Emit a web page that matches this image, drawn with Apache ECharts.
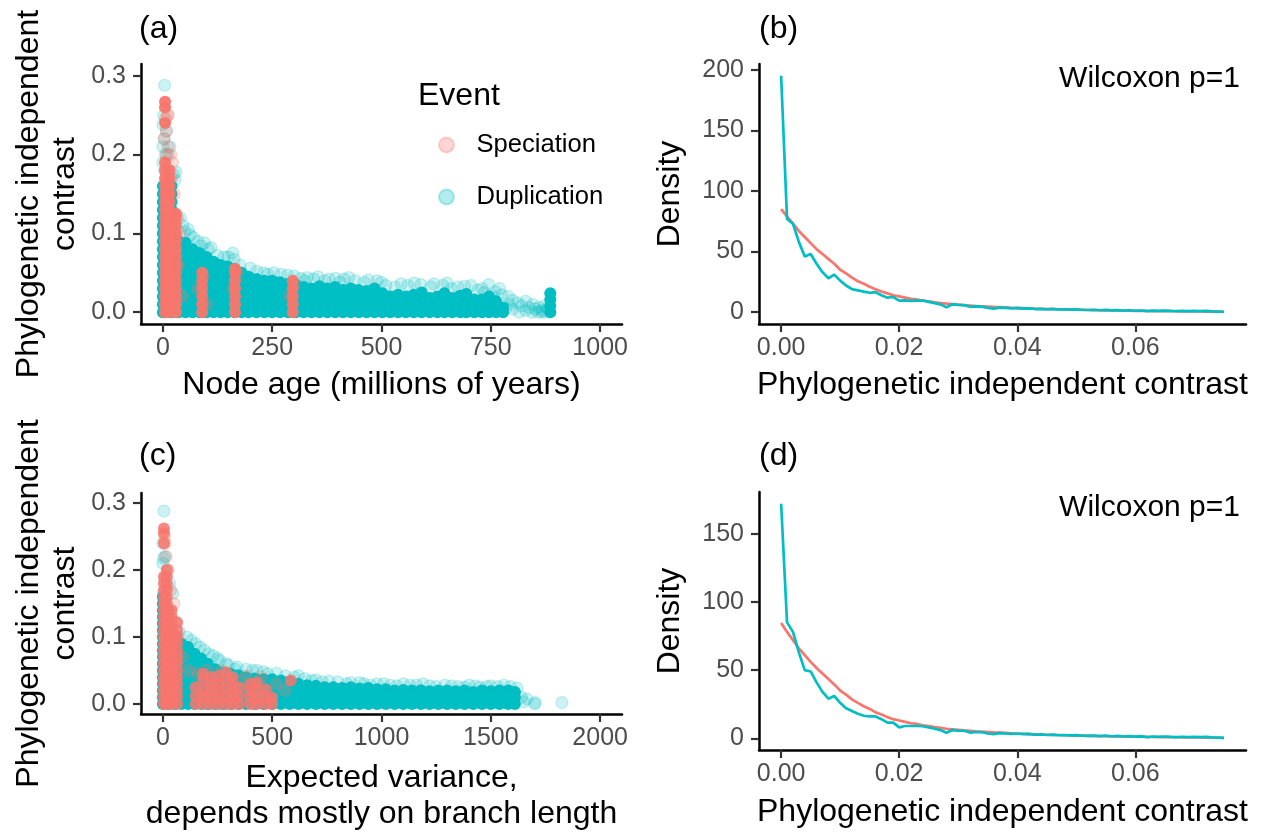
<!DOCTYPE html>
<html><head><meta charset="utf-8">
<script src="https://cdn.jsdelivr.net/npm/echarts@6/dist/echarts.min.js"></script>
<style>html,body{margin:0;padding:0;background:#fff}#c{width:1273px;height:833px}</style>
</head><body><div id="c"></div>
<script>
// ---------- data ----------
const RED = '#F8766D', TEAL = '#00BFC4';
const eventNames = ['Speciation', 'Duplication'];

// panel (a): node age vs contrast — dense core columns [age, [contrasts]]
const dupCoreA = [
 [0,[0,.01,.02,.03,.04,.05,.06,.07,.08,.09,.10,.11,.12,.13,.14,.15,.16]],
 [20,[0,.01,.02,.03,.04,.05,.06,.07,.08,.09,.10,.11,.12,.13,.14,.15,.16]],
 [36,[0,.01,.02,.03,.04,.05,.06,.07,.08,.09]],
 [52,[0,.01,.02,.03,.04,.05,.06,.07,.08,.088]],
 [68,[0,.01,.02,.03,.04,.05,.06,.07,.08]],
 [84,[0,.01,.02,.03,.04,.05,.06,.07,.075]],
 [100,[0,.01,.02,.03,.04,.05,.06,.07]],
 [116,[0,.01,.02,.03,.04,.05,.06,.064]],
 [132,[0,.01,.02,.03,.04,.05,.06]],
 [148,[0,.01,.02,.03,.04,.05,.058]],
 [164,[0,.01,.02,.03,.04,.05,.055]],
 [180,[0,.01,.02,.03,.04,.05]],
 [196,[0,.01,.02,.03,.04,.045]],
 [214,[0,.01,.02,.03,.04,.042]],
 [232,[0,.01,.02,.03,.04]],
 [250,[0,.01,.02,.03,.04]],
 [268,[0,.01,.02,.03,.038]],
 [286,[0,.01,.02,.03,.036]],
 [304,[0,.01,.02,.03,.035]],
 [322,[0,.01,.02,.03,.032]],
 [340,[0,.01,.02,.03]],
 [358,[0,.01,.02,.03,.033]],
 [376,[0,.01,.02,.03]],
 [394,[0,.01,.02,.03,.032]],
 [412,[0,.01,.02,.028]],
 [430,[0,.01,.02,.03]],
 [448,[0,.01,.02,.028]],
 [466,[0,.01,.02,.027]],
 [484,[0,.01,.02,.03]],
 [502,[0,.01,.02,.024]],
 [520,[0,.01,.02]],
 [538,[0,.01,.02,.022]],
 [556,[0,.01,.02]],
 [574,[0,.01,.02,.022]],
 [592,[0,.01,.02,.025]],
 [610,[0,.01,.018]],
 [628,[0,.01,.02]],
 [644,[0,.01,.02,.024]],
 [662,[0,.01,.018]],
 [680,[0,.01,.02,.021]],
 [694,[0,.01,.02,.023]],
 [712,[0,.01,.016]],
 [730,[0,.01,.016]],
 [746,[0,.01,.02]],
 [762,[0,.008,.014]],
 [778,[0,.006]],
 [886,[0,.008,.016,.024]]
];
const dupFringeA = [[4,.288],[0,.238],[2,.25],[0,.21],[3,.22],[6,.2],[0,.19],[4,.18],[24,.175],[28,.168],[30,.178],[14,.165],[10,.17],[12,.2],[8,.23],[16,.21],[40,.12],[46,.11],[50,.102],[58,.105],[62,.098],[70,.095],[80,.09],[88,.084],[95,.088],[104,.08],[110,.082],[125,.072],[140,.07],[150,.07],[160,.075],[163,.067],[176,.06],[200,.056],[215,.052],[231,.05],[240,.048],[254,.05],[270,.048],[285,.047],[300,.046],[315,.043],[325,.04],[330,.044],[345,.042],[355,.045],[370,.04],[380,.042],[395,.043],[405,.038],[414,.042],[425,.044],[440,.04],[460,.038],[470,.041],[490,.04],[500,.038],[510,.034],[530,.032],[545,.036],[560,.034],[575,.037],[590,.035],[612,.032],[620,.036],[640,.034],[650,.037],[660,.03],[675,.032],[690,.033],[705,.034],[720,.028],[730,.03],[735,.025],[745,.035],[755,.02],[760,.026],[770,.03],[775,.022],[790,.02],[800,.015],[812,.012],[820,.008],[830,.014],[838,.006],[846,.01],[852,.004],[860,.006],[868,.002],[872,.008],[800,.004],[815,0],[830,.002],[845,0],[858,0],[866,0],[785,.005],[792,.01],[875,0],[880,.005]];
const speCoreA = [
 [5,[0,.01,.02,.03,.04,.05,.06,.07,.08,.09,.10,.11,.12,.13,.14,.15,.16,.17,.18,.19,.24,.26,.267]],
 [15,[0,.01,.02,.03,.04,.05,.06,.07,.08,.09,.10,.11,.12,.13,.14,.15,.16,.17,.18]],
 [30,[0,.01,.02,.03,.04,.05,.06,.07,.08,.09,.10,.11,.12,.125]],
 [90,[0,.01,.02,.03,.04,.05]],
 [165,[0,.01,.02,.03,.04,.05,.055]],
 [297,[0,.01,.02,.03,.04]]
];
const speFringeA = [[10,.25],[8,.23],[12,.21],[3,.22],[18,.2],[22,.19],[26,.15],[34,.12],[40,.1],[36,.06],[92,.045],[170,.05],[300,.035],[20,.17],[8,.2],[12,.25],[6,.245],[45,.02],[80,.03],[100,.01],[160,.03],[290,.02]];

// panel (c): expected variance vs contrast
const dupCoreC = [
 [0,[0,.01,.02,.03,.04,.05,.06,.07,.08,.09,.10,.11,.12,.13,.14,.15,.16]],
 [25,[0,.01,.02,.03,.04,.05,.06,.07,.08,.09,.10,.11,.12,.13,.14]],
 [55,[0,.01,.02,.03,.04,.05,.06,.07,.08,.09,.10]],
 [85,[0,.01,.02,.03,.04,.05,.06,.07,.08,.09]],
 [115,[0,.01,.02,.03,.04,.05,.06,.07,.08,.085]],
 [145,[0,.01,.02,.03,.04,.05,.06,.07,.075]],
 [175,[0,.01,.02,.03,.04,.05,.06,.068]],
 [205,[0,.01,.02,.03,.04,.05,.06]],
 [240,[0,.01,.02,.03,.04,.05,.052]],
 [275,[0,.01,.02,.03,.04,.047]],
 [310,[0,.01,.02,.03,.04,.045]],
 [345,[0,.01,.02,.03,.04,.043]],
 [380,[0,.01,.02,.03,.04]],
 [420,[0,.01,.02,.03,.038]],
 [460,[0,.01,.02,.03,.037]],
 [500,[0,.01,.02,.03,.037]],
 [540,[0,.01,.02,.03,.035]],
 [580,[0,.01,.02,.03,.033]],
 [620,[0,.01,.02,.03]],
 [660,[0,.01,.02,.028]],
 [700,[0,.01,.02,.027]],
 [740,[0,.01,.02,.025]],
 [780,[0,.01,.02,.025]],
 [820,[0,.01,.02,.024]],
 [860,[0,.01,.02,.025]],
 [900,[0,.01,.02,.023]],
 [940,[0,.01,.02,.024]],
 [980,[0,.01,.02,.022]],
 [1020,[0,.01,.02,.022]],
 [1060,[0,.01,.02]],
 [1100,[0,.01,.02,.021]],
 [1140,[0,.01,.02]],
 [1180,[0,.01,.02,.02]],
 [1220,[0,.01,.019]],
 [1260,[0,.01,.02]],
 [1300,[0,.01,.02]],
 [1340,[0,.01,.019]],
 [1380,[0,.01,.02]],
 [1420,[0,.01,.018]],
 [1460,[0,.01,.02]],
 [1500,[0,.01,.019]],
 [1540,[0,.01,.02]],
 [1580,[0,.01,.02]],
 [1610,[0,.01,.018]]
];
const dupFringeC = [[5,.288],[0,.24],[3,.218],[0,.21],[8,.185],[2,.166],[20,.2],[30,.18],[45,.165],[10,.22],[60,.12],[75,.108],[110,.1],[130,.095],[150,.09],[170,.085],[190,.08],[210,.075],[230,.072],[250,.068],[260,.065],[290,.06],[300,.058],[330,.052],[340,.055],[380,.052],[410,.05],[430,.05],[460,.048],[480,.045],[520,.046],[560,.042],[600,.04],[620,.042],[650,.038],[680,.035],[700,.036],[730,.033],[760,.034],[800,.033],[840,.03],[860,.032],[900,.032],[920,.03],[950,.028],[980,.03],[1010,.03],[1040,.028],[1070,.027],[1100,.03],[1130,.028],[1160,.028],[1190,.03],[1220,.027],[1250,.026],[1290,.028],[1320,.027],[1350,.026],[1380,.025],[1400,.028],[1430,.027],[1450,.025],[1480,.026],[1500,.027],[1530,.026],[1560,.028],[1590,.026],[1620,.024],[1665,.0075],[1700,0],[1704,.002],[1825,.002],[1640,.01],[1650,.003]];
const speCoreC = [
 [5,[0,.01,.02,.03,.04,.05,.06,.07,.08,.09,.10,.11,.12,.13,.14,.15,.16,.17,.18,.19,.24,.255,.262]],
 [18,[0,.01,.02,.03,.04,.05,.06,.07,.08,.09,.10,.11,.12,.13,.14,.15,.16,.17,.18,.19,.2]],
 [40,[0,.01,.02,.03,.04,.05,.06,.07,.08,.09,.10,.11,.12,.13,.14]],
 [65,[0,.01,.02,.03,.04,.05,.06,.07,.08,.09,.10,.11,.122]],
 [150,[0,.012,.025]],
 [185,[0,.01,.02,.035,.045]],
 [220,[0,.01,.02,.03,.04]],
 [255,[0,.008,.02,.03,.042]],
 [290,[0,.01,.022,.035,.047]],
 [320,[0,.01,.02,.03,.04]],
 [350,[0,.012,.025]],
 [400,[0,.01,.02,.03]],
 [430,[0,.008,.02,.032]],
 [470,[0,.01,.022]],
 [500,[0,.01]],
 [585,[.035]]
];
const speFringeC = [[10,.24],[15,.22],[25,.2],[8,.25],[35,.17],[50,.15],[70,.1],[90,.07],[120,.05],[160,.045],[200,.05],[270,.05],[380,.042],[450,.04],[520,.03],[560,.02]];

// panels (b),(d): density of contrast
const contrastGrid = [0,0.001,0.002,0.003,0.004,0.005,0.006,0.007,0.008,0.009,0.010,0.011,0.012,0.013,0.014,0.015,0.016,0.017,0.018,0.019,0.020,0.021,0.022,0.023,0.024,0.025,0.026,0.027,0.028,0.029,0.030,0.031,0.032,0.033,0.034,0.035,0.036,0.037,0.038,0.039,0.040,0.041,0.042,0.043,0.044,0.045,0.046,0.047,0.048,0.049,0.050,0.051,0.052,0.053,0.054,0.055,0.056,0.057,0.058,0.059,0.060,0.061,0.062,0.063,0.064,0.065,0.066,0.067,0.068,0.069,0.070,0.071,0.072,0.073,0.074,0.075];
const speDensB = [85,79,73,67,62,57,52,48,44,40,35,32,28.5,25.5,23.5,21,19,17,15.5,14,13,12,11,10.5,9.5,9,8.2,7.6,7,6.6,6.2,5.8,5.5,5.1,4.9,4.6,4.3,4.1,3.9,3.6,3.4,3.3,3.1,2.9,2.8,2.6,2.5,2.4,2.2,2.1,2.0,1.9,1.8,1.7,1.6,1.5,1.45,1.4,1.3,1.2,1.15,1.1,1.0,0.95,0.9,0.85,0.8,0.75,0.7,0.65,0.6,0.55,0.5,0.45,0.4,0.35];
const dupDensB = [195,77,73,58,46,48,40,33,28,31,26,22,19,18,17,16,16.5,14,12,12.5,9.5,9.8,9.4,9.5,9.6,8.5,7.5,6.5,4,6.5,6,5.8,4.5,4.8,4.6,3.5,3,3.8,3.5,3.2,3.5,3,3.2,2.6,2.8,2.4,2.7,2.2,2.4,2.1,2.3,2,1.8,2,1.6,1.9,1.5,1.7,1.3,1.6,1.2,1.4,0.9,1.3,1.1,1.3,1.0,0.9,1.1,0.8,1.0,0.9,1.0,0.7,0.5,0.3];
const speDensD = [84.6,78,72,66,61,56,51.5,47.5,43.5,39.5,35,32,28.5,26,23.5,21.5,19,17.5,15.5,14,13,12,11,10.5,9.5,9,8.2,7.6,7,6.6,6.2,5.8,5.5,5.1,4.9,4.6,4.3,4.1,3.9,3.6,3.4,3.3,3.1,2.9,2.8,2.6,2.5,2.4,2.2,2.1,2.0,1.9,1.8,1.7,1.6,1.5,1.45,1.4,1.3,1.2,1.15,1.1,1.0,0.95,0.9,0.85,0.8,0.75,0.7,0.65,0.6,0.55,0.5,0.45,0.4,0.35];
const dupDensD = [172,85,78,63,50,49,41,34,29,31,26,22,20,18,16.5,16,16,14,11.5,11.5,8,9,9,9,8.8,8,7,6,4,6,5.5,5.5,4.2,4.6,4.4,3.5,3,3.8,3.5,3.2,3.5,3,3.2,2.6,2.8,2.4,2.7,2.2,2.4,2.1,2.3,2,1.8,2,1.6,1.9,1.5,1.7,1.3,1.6,1.2,1.4,0.9,1.3,1.1,1.3,1.0,0.9,1.1,0.8,1.0,0.9,1.0,0.7,0.5,0.3];

// tick labels
const ageTicks = [0, 250, 500, 750, 1000];
const varTicks = [0, 500, 1000, 1500, 2000];
const picTicks = [0, 0.1, 0.2, 0.3];
const contrastTicks = [0, 0.02, 0.04, 0.06];
const densTicksB = [0, 50, 100, 150, 200];
const densTicksD = [0, 50, 100, 150];

// ---------- helpers ----------
const FONT = 'Liberation Sans, Arial, sans-serif';
function cols(arr) { const out = []; arr.forEach(([x, ys]) => ys.forEach(y => out.push([x, y]))); return out; }
function pairs(xs, ys) { return xs.map((x, i) => [x, ys[i]]); }

function axis(gi, min, max, ticks, fmt, name, gap, labMargin) {
  return {
    type: 'value', gridIndex: gi, min: min, max: max,
    name: name, nameLocation: 'middle', nameGap: gap,
    nameTextStyle: { fontSize: 32, color: '#000', fontFamily: FONT, lineHeight: 36 },
    axisLine: { show: true, onZero: false, lineStyle: { color: '#000', width: 2.5 } },
    axisTick: { show: true, customValues: ticks, length: 8, lineStyle: { color: '#333', width: 2.2 } },
    axisLabel: { customValues: ticks, formatter: fmt, color: '#4D4D4D', fontSize: 25, fontFamily: FONT, margin: labMargin },
    splitLine: { show: false }
  };
}
const f0 = v => String(Math.round(v));
const f1 = v => v.toFixed(1);
const f2 = v => v.toFixed(2);

function scatter(name, data, color, op, xi, z, bw) {
  return { type: 'scatter', name: name, xAxisIndex: xi, yAxisIndex: xi, data: data, symbol: 'circle', symbolSize: 12, z: z,
    itemStyle: { color: color, opacity: op, borderColor: color, borderWidth: bw }, emphasis: { disabled: true }, animation: false };
}
function line(name, data, color, xi, z) {
  return { type: 'line', name: name, xAxisIndex: xi, yAxisIndex: xi, data: data, showSymbol: false, z: z,
    lineStyle: { color: color, width: 2.7 }, itemStyle: { color: color }, animation: false };
}

const chart = echarts.init(document.getElementById('c'), null, { renderer: 'canvas' });
const tStyle = { fontSize: 32, fontWeight: 'normal', color: '#000', fontFamily: FONT };
chart.setOption({
  backgroundColor: '#fff',
  animation: false,
  title: [
    { text: '(a)', left: 134, top: 8, textStyle: tStyle },
    { text: '(b)', left: 754, top: 8, textStyle: tStyle },
    { text: '(c)', left: 134, top: 435, textStyle: tStyle },
    { text: '(d)', left: 754, top: 435, textStyle: tStyle },
    { text: 'Event', left: 413, top: 75, textStyle: tStyle },
    { text: 'Wilcoxon p=1', right: 28, top: 59, textStyle: Object.assign({}, tStyle, { fontSize: 30 }) },
    { text: 'Wilcoxon p=1', right: 28, top: 488, textStyle: Object.assign({}, tStyle, { fontSize: 30 }) }
  ],
  legend: {
    data: eventNames, orient: 'vertical', left: 433, top: 127, itemWidth: 50, itemHeight: 15, itemGap: 26,
    icon: 'circle', selectedMode: false,
    itemStyle: { opacity: 0.3 },
    textStyle: { fontSize: 25.6, color: '#000', fontFamily: FONT }
  },
  grid: [
    { left: 141, top: 64, width: 481, height: 260, outerBoundsMode: 'none' },
    { left: 759, top: 64, width: 487, height: 260, outerBoundsMode: 'none' },
    { left: 141, top: 493, width: 481, height: 221, outerBoundsMode: 'none' },
    { left: 759, top: 492, width: 487, height: 258, outerBoundsMode: 'none' }
  ],
  xAxis: [
    axis(0, -50, 1050, ageTicks, f0, 'Node age (millions of years)', 43, 12),
    axis(1, -0.00375, 0.07875, contrastTicks, f2, 'Phylogenetic independent contrast', 43, 12),
    axis(2, -100, 2100, varTicks, f0, 'Expected variance,\ndepends mostly on branch length', 46, 12),
    axis(3, -0.00375, 0.07875, contrastTicks, f2, 'Phylogenetic independent contrast', 44, 12)
  ],
  yAxis: [
    axis(0, -0.015, 0.315, picTicks, f1, 'Phylogenetic independent\ncontrast', 58, 15),
    axis(1, -9.75, 204.75, densTicksB, f0, 'Density', 71, 15),
    axis(2, -0.015, 0.315, picTicks, f1, 'Phylogenetic independent\ncontrast', 58, 15),
    axis(3, -8.6, 180.6, densTicksD, f0, 'Density', 71, 15)
  ],
  series: [
    scatter('Speciation', speFringeA, RED, 0.25, 0, 5, 1.2),
    scatter('Duplication', dupFringeA, TEAL, 0.2, 0, 3, 1.2),
    scatter('Duplication', cols(dupCoreA), TEAL, 1, 0, 2, 0),
    scatter('Speciation', cols(speCoreA), RED, 0.95, 0, 4, 0),
    line('Speciation', pairs(contrastGrid, speDensB), RED, 1, 2),
    line('Duplication', pairs(contrastGrid, dupDensB), TEAL, 1, 3),
    scatter('Duplication', dupFringeC, TEAL, 0.2, 2, 3, 1.2),
    scatter('Duplication', cols(dupCoreC), TEAL, 1, 2, 2, 0),
    scatter('Speciation', cols(speCoreC), RED, 0.85, 2, 4, 0),
    scatter('Speciation', speFringeC, RED, 0.25, 2, 5, 1.2),
    line('Speciation', pairs(contrastGrid, speDensD), RED, 3, 2),
    line('Duplication', pairs(contrastGrid, dupDensD), TEAL, 3, 3)
  ]
});
</script></body></html>
